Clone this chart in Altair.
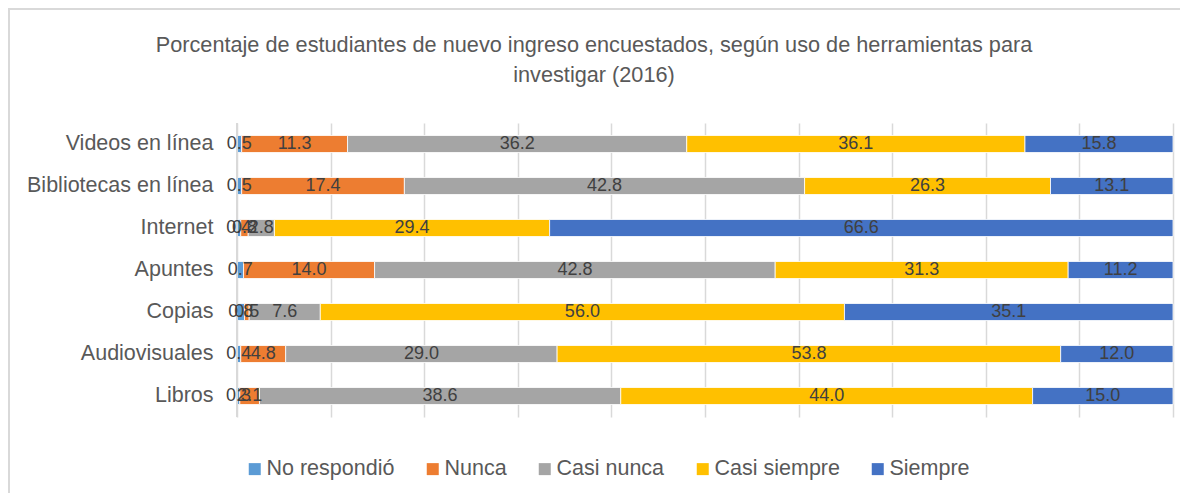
import altair as alt
import pandas as pd

title_lines = ["Porcentaje de estudiantes de nuevo ingreso encuestados, según uso de herramientas para",
               "investigar (2016)"]
tools = ["Videos en línea", "Bibliotecas en línea", "Internet", "Apuntes", "Copias", "Audiovisuales", "Libros"]
series = ["No respondió", "Nunca", "Casi nunca", "Casi siempre", "Siempre"]
colors = ["#5B9BD5", "#ED7D31", "#A5A5A5", "#FFC000", "#4472C4"]

no_respondio = [0.5, 0.5, 0.4, 0.7, 0.8, 0.4, 0.3]
nunca = [11.3, 17.4, 0.8, 14.0, 0.5, 4.8, 2.1]
casi_nunca = [36.2, 42.8, 2.8, 42.8, 7.6, 29.0, 38.6]
casi_siempre = [36.1, 26.3, 29.4, 31.3, 56.0, 53.8, 44.0]
siempre = [15.8, 13.1, 66.6, 11.2, 35.1, 12.0, 15.0]

cols = [no_respondio, nunca, casi_nunca, casi_siempre, siempre]
rows = []
for si, (s, vals) in enumerate(zip(series, cols)):
    for t, v in zip(tools, vals):
        rows.append({"tool": t, "serie": s, "order": si, "value": v})
df = pd.DataFrame(rows)

FONT = "Liberation Sans, Arial, sans-serif"
W, H = 936, 294

base = alt.Chart(df).transform_joinaggregate(
    total="sum(value)", groupby=["tool"]
).transform_calculate(
    pct="datum.value / datum.total"
).transform_window(
    cum="sum(pct)", sort=[alt.SortField("order")], groupby=["tool"], frame=[None, 0]
).transform_calculate(
    start="datum.cum - datum.pct", mid="datum.cum - datum.pct / 2"
)

yenc = alt.Y("tool:N", sort=tools, title=None,
             scale=alt.Scale(paddingInner=0, paddingOuter=0),
             axis=alt.Axis(labelFontSize=21.5, labelColor="#595959", labelFont=FONT,
                           labelLimit=400, ticks=False, domain=False, labelPadding=24, grid=False))

xscale = alt.Scale(domain=[0, 1])

bars = base.mark_bar(size=17, stroke="white", strokeWidth=0.8).encode(
    x=alt.X("start:Q", scale=xscale, title=None,
            axis=alt.Axis(values=[i / 10 for i in range(11)], labels=False, ticks=False,
                          domain=False, grid=True, gridColor="#D9D9D9", gridWidth=1.5)),
    x2="cum:Q",
    y=yenc,
    color=alt.Color("serie:N", sort=series,
                    scale=alt.Scale(domain=series, range=colors),
                    legend=alt.Legend(title=None, orient="none", direction="horizontal",
                                      legendX=7, legendY=335, columns=5,
                                      labelFontSize=21.5, labelColor="#595959", labelFont=FONT,
                                      symbolType="square", symbolSize=144, symbolStrokeWidth=0,
                                      columnPadding=27, labelOffset=1)),
    order=alt.Order("order:Q"),
)

texts = base.mark_text(fontSize=18, color="#404040", font=FONT, baseline="middle").encode(
    x=alt.X("mid:Q", scale=xscale),
    y=alt.Y("tool:N", sort=tools),
    text=alt.Text("value:Q", format=".1f"),
)

one = pd.DataFrame({"v": [0]})

axisline = alt.Chart(one).mark_rule(color="#D9D9D9", strokeWidth=2).encode(
    x=alt.value(0), y=alt.value(0), y2=alt.value(H)
)

frame = alt.Chart(one).mark_rect(
    fill=None, stroke="#D9D9D9", strokeWidth=2
).encode(x=alt.value(-228), x2=alt.value(W + 40), y=alt.value(-114), y2=alt.value(H + 120))

title1 = alt.Chart(one).mark_text(
    fontSize=21.7, font=FONT, color="#595959", align="center", baseline="middle"
).encode(x=alt.value(357), y=alt.value(-78), text=alt.value(title_lines[0]))
title2 = alt.Chart(one).mark_text(
    fontSize=21.7, font=FONT, color="#595959", align="center", baseline="middle"
).encode(x=alt.value(357), y=alt.value(-48), text=alt.value(title_lines[1]))

chart = alt.layer(frame, bars, axisline, texts, title1, title2).properties(
    width=W, height=H,
    autosize=alt.AutoSizeParams(type="none"),
    padding={"left": 229, "top": 115, "right": 7, "bottom": 76},
).configure_view(stroke=None)

chart.save("out.html", embed_options={"renderer": "svg", "actions": False})
